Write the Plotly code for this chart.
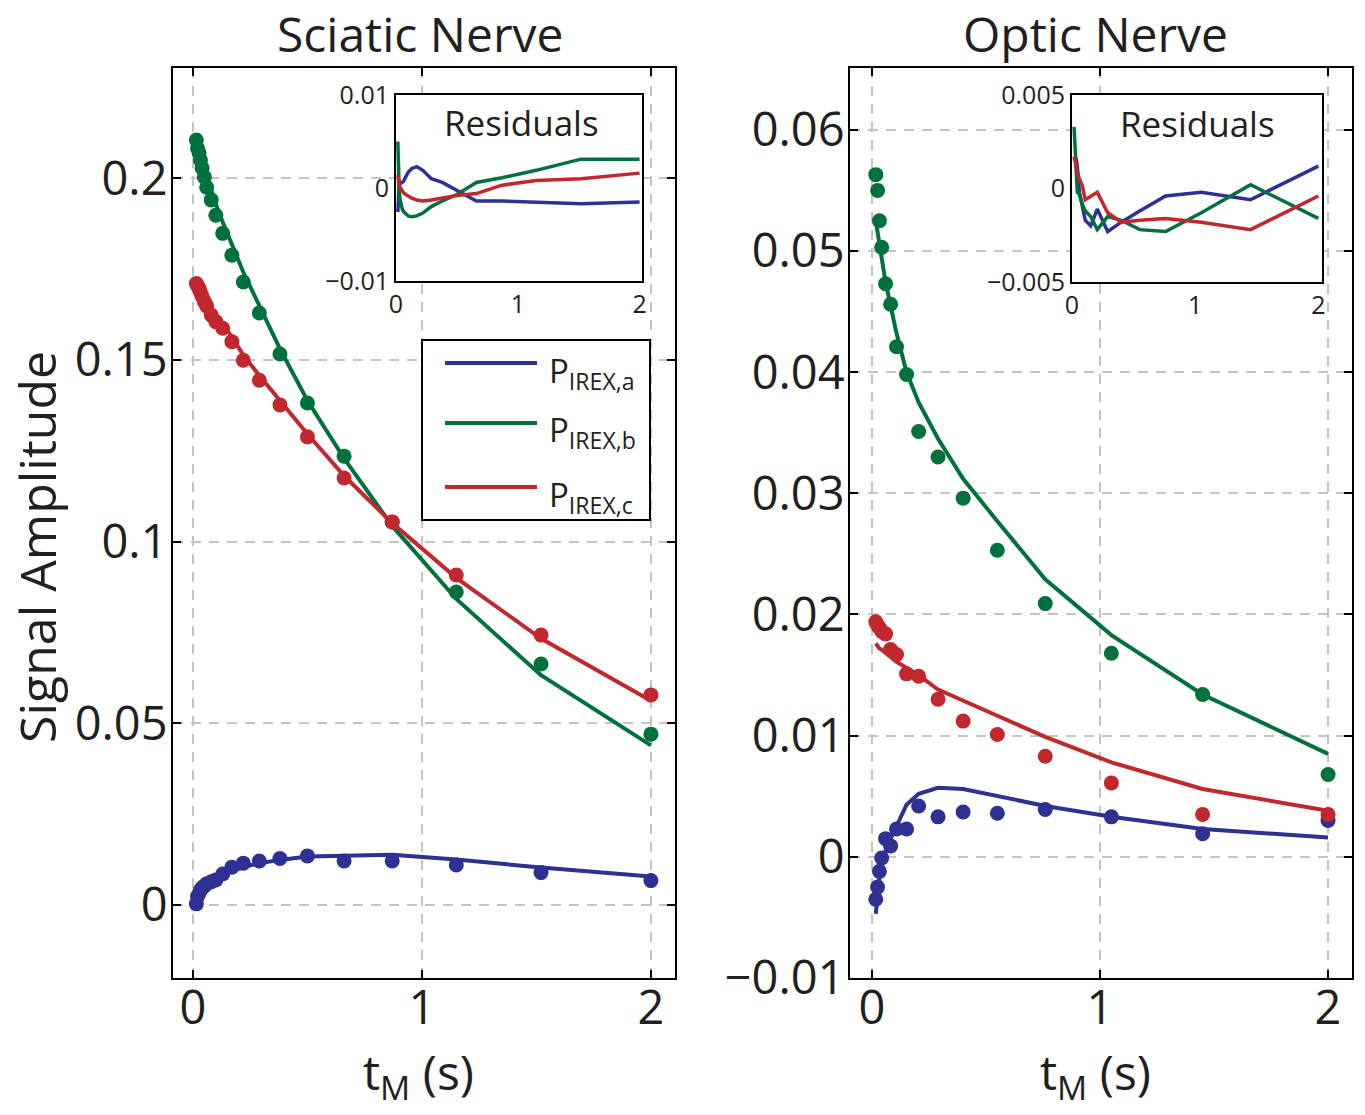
import plotly.graph_objects as go

# ---------------- data ----------------
series_names = ["P<sub>IREX,a</sub>", "P<sub>IREX,b</sub>", "P<sub>IREX,c</sub>"]
series_colors = ["#2e3192", "#00703c", "#c1272d"]

# Sciatic nerve
t_sciatic = [0.015, 0.02, 0.027, 0.033, 0.04, 0.05, 0.06, 0.08, 0.1, 0.13,
             0.17, 0.22, 0.29, 0.38, 0.5, 0.66, 0.87, 1.15, 1.52, 2.0]
sciatic_a_data = [0.0003, 0.0023, 0.0032, 0.0041, 0.0047, 0.0052, 0.0058, 0.0064, 0.0069, 0.0085,
                  0.0104, 0.0115, 0.0121, 0.0128, 0.0135, 0.0121, 0.0121, 0.0110, 0.0089, 0.0067]
sciatic_a_fit = [0.0022, 0.0027, 0.0033, 0.0038, 0.0043, 0.0050, 0.0055, 0.0064, 0.0072, 0.0083,
                 0.0093, 0.0104, 0.0115, 0.0124, 0.0133, 0.0135, 0.0138, 0.0125, 0.0103, 0.0078]
sciatic_b_data = [0.2105, 0.2082, 0.2069, 0.2050, 0.2028, 0.2003, 0.1975, 0.1940, 0.1898, 0.1848,
                  0.1788, 0.1714, 0.1629, 0.1516, 0.1381, 0.1235, 0.1054, 0.0861, 0.0663, 0.0470]
sciatic_b_fit = [0.2055, 0.2074, 0.2074, 0.2062, 0.2046, 0.2025, 0.2000, 0.1968, 0.1928, 0.1879,
                 0.1818, 0.1741, 0.1649, 0.1530, 0.1388, 0.1229, 0.1043, 0.0842, 0.0632, 0.0439]
sciatic_c_data = [0.1710, 0.1704, 0.1697, 0.1686, 0.1675, 0.1660, 0.1648, 0.1623, 0.1605, 0.1587,
                  0.1550, 0.1499, 0.1444, 0.1376, 0.1288, 0.1175, 0.1054, 0.0908, 0.0743, 0.0578]
sciatic_c_fit = [0.1696, 0.1697, 0.1694, 0.1685, 0.1676, 0.1663, 0.1653, 0.1630, 0.1614, 0.1598,
                 0.1563, 0.1513, 0.1457, 0.1387, 0.1296, 0.1181, 0.1051, 0.0900, 0.0733, 0.0562]
sciatic_a_res = [-0.0026, -0.0005, 0.0004, 0.0006, 0.0005, 0.0006, 0.0007, 0.0012, 0.0017, 0.0021,
                 0.0023, 0.0019, 0.0010, 0.0006, -0.0003, -0.0014, -0.0014, -0.0015, -0.0017, -0.0015]
sciatic_b_res = [0.0050, 0.0008, -0.0005, -0.0012, -0.0018, -0.0022, -0.0025, -0.0028, -0.0030, -0.0031,
                 -0.0030, -0.0027, -0.0020, -0.0014, -0.0007, 0.0006, 0.0011, 0.0019, 0.0031, 0.0031]
sciatic_c_res = [0.0014, 0.0007, 0.0003, 0.0001, -0.0001, -0.0003, -0.0005, -0.0007, -0.0009, -0.0011,
                 -0.0013, -0.0014, -0.0013, -0.0011, -0.0008, -0.0006, 0.0003, 0.0008, 0.0010, 0.0016]

# Optic nerve
t_optic = [0.017, 0.025, 0.033, 0.043, 0.06, 0.082, 0.108, 0.152,
           0.205, 0.29, 0.40, 0.55, 0.76, 1.05, 1.45, 2.0]
optic_a_data = [-0.0035, -0.0025, -0.0012, -0.0001, 0.0015, 0.0009, 0.0023, 0.0023,
                0.0042, 0.0033, 0.0037, 0.0036, 0.0039, 0.0033, 0.0019, 0.0030]
optic_a_fit = [-0.0047, -0.0030, -0.0018, -0.0007, 0.0005, 0.0015, 0.0025, 0.0043,
               0.0052, 0.0057, 0.0056, 0.0050, 0.0042, 0.0033, 0.0023, 0.0016]
optic_b_data = [0.0563, 0.0550, 0.0525, 0.0503, 0.0473, 0.0456, 0.0421, 0.0398,
                0.0351, 0.0330, 0.0296, 0.0253, 0.0209, 0.0168, 0.0134, 0.0068]
optic_b_fit = [0.0525, 0.0515, 0.0505, 0.0493, 0.0474, 0.0455, 0.0432, 0.0400,
               0.0375, 0.0345, 0.0312, 0.0277, 0.0229, 0.0183, 0.0134, 0.0085]
optic_c_data = [0.0194, 0.0191, 0.0189, 0.0186, 0.0184, 0.0171, 0.0167, 0.0151,
                0.0149, 0.0130, 0.0112, 0.0101, 0.0083, 0.0061, 0.0035, 0.0035]
optic_c_fit = [0.0176, 0.0174, 0.0172, 0.0171, 0.0168, 0.0165, 0.0161, 0.0156,
               0.0150, 0.0138, 0.0129, 0.0116, 0.0099, 0.0078, 0.0056, 0.0038]
optic_a_res = [0.0017, 0.0017, 0.0016, 0.0012, -0.0002, -0.0008, -0.0017, -0.0020,
               -0.0011, -0.0023, -0.0018, -0.0012, -0.0004, -0.0002, -0.0006, 0.0012]
optic_b_res = [0.0033, 0.0020, 0.0008, -0.0002, -0.0003, -0.0008, -0.0012, -0.0015,
               -0.0022, -0.0015, -0.0017, -0.0022, -0.0023, -0.0013, 0.0002, -0.0016]
optic_c_res = [0.0017, 0.0014, 0.0012, 0.0009, 0.0005, 0.0002, -0.0006, -0.0004,
               -0.0002, -0.0013, -0.0018, -0.0017, -0.0016, -0.0018, -0.0022, -0.0004]

# tick labels
x_ticks = [0, 1, 2]
x_ticktext = ["0", "1", "2"]
sciatic_yticks = [0, 0.05, 0.1, 0.15, 0.2]
sciatic_yticktext = ["0", "0.05", "0.1", "0.15", "0.2"]
optic_yticks = [-0.01, 0, 0.01, 0.02, 0.03, 0.04, 0.05, 0.06]
optic_yticktext = ["\u22120.01", "0", "0.01", "0.02", "0.03", "0.04", "0.05", "0.06"]
sciatic_res_ticks = [-0.01, 0, 0.01]
sciatic_res_ticktext = ["\u22120.01", "0", "0.01"]
optic_res_ticks = [-0.005, 0, 0.005]
optic_res_ticktext = ["\u22120.005", "0", "0.005"]

# ---------------- figure ----------------
W, H = 1365, 1115
FONT = "Open Sans"


def px(x):
    return x / W


def py(y):
    return 1 - y / H


fig = go.Figure()

sciatic_data = [sciatic_a_data, sciatic_b_data, sciatic_c_data]
sciatic_fit = [sciatic_a_fit, sciatic_b_fit, sciatic_c_fit]
sciatic_res = [sciatic_a_res, sciatic_b_res, sciatic_c_res]
optic_data = [optic_a_data, optic_b_data, optic_c_data]
optic_fit = [optic_a_fit, optic_b_fit, optic_c_fit]
optic_res = [optic_a_res, optic_b_res, optic_c_res]

for i in range(3):
    c = series_colors[i]
    fig.add_trace(go.Scatter(x=t_sciatic, y=sciatic_fit[i], mode="lines",
                             line=dict(color=c, width=4), xaxis="x", yaxis="y",
                             showlegend=False, name=series_names[i]))
    fig.add_trace(go.Scatter(x=t_sciatic, y=sciatic_data[i], mode="markers",
                             marker=dict(color=c, size=15), xaxis="x", yaxis="y",
                             showlegend=False))
    fig.add_trace(go.Scatter(x=t_optic, y=optic_fit[i], mode="lines",
                             line=dict(color=c, width=4), xaxis="x2", yaxis="y2",
                             showlegend=False))
    fig.add_trace(go.Scatter(x=t_optic, y=optic_data[i], mode="markers",
                             marker=dict(color=c, size=15), xaxis="x2", yaxis="y2",
                             showlegend=False))

for i in range(3):
    c = series_colors[i]
    fig.add_trace(go.Scatter(x=t_sciatic, y=sciatic_res[i], mode="lines",
                             line=dict(color=c, width=3.5), xaxis="x3", yaxis="y3",
                             showlegend=False))
    fig.add_trace(go.Scatter(x=t_optic, y=optic_res[i], mode="lines",
                             line=dict(color=c, width=3.5), xaxis="x4", yaxis="y4",
                             showlegend=False))

main_axis = dict(showline=True, linecolor="black", linewidth=2, mirror="ticks",
                 ticks="inside", ticklen=8, tickwidth=2, tickcolor="black",
                 showgrid=True, gridcolor="#c4c4c4", gridwidth=2, griddash="10px,8px",
                 zeroline=False, automargin=False,
                 tickfont=dict(family=FONT, size=47, color="#231f20"))
inset_axis = dict(showline=True, linecolor="black", linewidth=2, mirror=True,
                  ticks="", showgrid=False, zeroline=False, automargin=False,
                  tickfont=dict(family=FONT, size=25, color="#231f20"))

fig.update_layout(
    width=W, height=H, margin=dict(l=0, r=0, t=0, b=0, autoexpand=False),
    paper_bgcolor="white", plot_bgcolor="white", showlegend=False,
    font=dict(family=FONT, color="#231f20"),
    xaxis=dict(domain=[px(173), px(675)], range=[-0.087, 2.105], ticklabelstandoff=-12,
               tickvals=x_ticks, ticktext=x_ticktext, anchor="y", **main_axis),
    yaxis=dict(domain=[py(978), py(68)], range=[-0.0201, 0.2303], ticklabelstandoff=-6,
               tickvals=sciatic_yticks, ticktext=sciatic_yticktext, anchor="x", **main_axis),
    xaxis2=dict(domain=[px(850), px(1352)], range=[-0.096, 2.105], ticklabelstandoff=-12,
                tickvals=x_ticks, ticktext=x_ticktext, anchor="y2", **main_axis),
    yaxis2=dict(domain=[py(978), py(68)], range=[-0.01, 0.0651], ticklabelstandoff=-6,
                tickvals=optic_yticks, ticktext=optic_yticktext, anchor="x2", **main_axis),
    xaxis3=dict(domain=[px(396), px(642)], range=[0, 2.02],
                tickvals=x_ticks, ticktext=x_ticktext, anchor="y3", **inset_axis),
    yaxis3=dict(domain=[py(281), py(95)], range=[-0.01, 0.01],
                tickvals=sciatic_res_ticks, ticktext=sciatic_res_ticktext, anchor="x3", **inset_axis),
    xaxis4=dict(domain=[px(1072), px(1322)], range=[0, 2.03],
                tickvals=x_ticks, ticktext=x_ticktext, anchor="y4", **inset_axis),
    yaxis4=dict(domain=[py(282), py(95)], range=[-0.005, 0.005],
                tickvals=optic_res_ticks, ticktext=optic_res_ticktext, anchor="x4", **inset_axis),
)

ann = []
ann.append(dict(text="Sciatic Nerve", x=px(420), y=py(33), xref="paper", yref="paper",
                showarrow=False, font=dict(size=48), xanchor="center", yanchor="middle"))
ann.append(dict(text="Optic Nerve", x=px(1095), y=py(33), xref="paper", yref="paper",
                showarrow=False, font=dict(size=48), xanchor="center", yanchor="middle"))
ann.append(dict(text="Signal Amplitude", x=px(37), y=py(547), xref="paper", yref="paper",
                showarrow=False, font=dict(size=50), textangle=-90,
                xanchor="center", yanchor="middle"))
for cx in (418, 1095):
    ann.append(dict(text="t<sub>M</sub> (s)", x=px(cx), y=py(1074), xref="paper", yref="paper",
                    showarrow=False, font=dict(size=48), xanchor="center", yanchor="middle"))
ann.append(dict(text="Residuals", x=px(521), y=py(122), xref="paper", yref="paper",
                showarrow=False, font=dict(size=35), xanchor="center", yanchor="middle"))
ann.append(dict(text="Residuals", x=px(1197), y=py(123), xref="paper", yref="paper",
                showarrow=False, font=dict(size=35), xanchor="center", yanchor="middle"))

# custom legend box
shapes = [dict(type="rect", xref="paper", yref="paper", x0=px(422), x1=px(650),
               y0=py(520), y1=py(340), line=dict(color="black", width=2),
               fillcolor="white", layer="above")]
legend_rows = [363, 423, 487]
for i, yy in enumerate(legend_rows):
    shapes.append(dict(type="line", xref="paper", yref="paper", x0=px(445), x1=px(537),
                       y0=py(yy), y1=py(yy), line=dict(color=series_colors[i], width=4),
                       layer="above"))
    ann.append(dict(text=series_names[i], x=px(547), y=py(yy + 9), xref="paper", yref="paper",
                    showarrow=False, font=dict(size=33), xanchor="left", yanchor="middle"))

fig.update_layout(annotations=ann, shapes=shapes)
fig.write_html("out.html", config={"displayModeBar": False},
               post_script="document.body.style.margin='0px';")
